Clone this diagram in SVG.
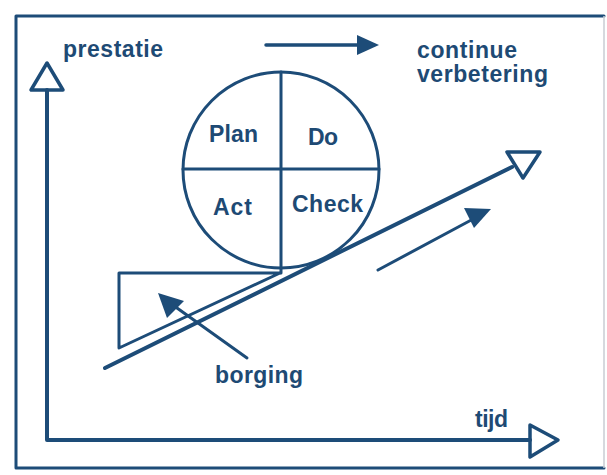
<svg xmlns="http://www.w3.org/2000/svg" width="607" height="475" viewBox="0 0 607 475">
<style>
.ln{fill:none;stroke:#1d4c78;stroke-linecap:round;stroke-linejoin:round}
.t{font-family:"Liberation Sans",Arial,sans-serif;font-weight:bold;font-size:23px;fill:#1e4a74}
</style>
<defs>
<marker id="fill" viewBox="0 0 10 10" refX="9" refY="5" markerWidth="5" markerHeight="5" markerUnits="strokeWidth" orient="auto">
<path d="M0,0 L10,5 L0,10 Z" fill="#1d4c78"/>
</marker>
</defs>
<rect width="607" height="475" fill="#fff"/>
<g id="frame">
<path class="ln" d="M604,16 H16 V468 H604" stroke-width="3"/>
<line x1="604" y1="16" x2="604" y2="468" stroke="#c8cdd3" stroke-width="1.5"/>
</g>
<g id="axes">
<path class="ln" d="M47,90 V440 H530" stroke-width="4"/>
<path class="ln" d="M47,63 L31,90 L63,90 Z" stroke-width="3.5"/>
<path class="ln" d="M530,425 L558,440 L530,457 Z" stroke-width="3.5"/>
</g>
<g id="pdca">
<circle class="ln" cx="281" cy="170" r="98" stroke-width="3"/>
<line class="ln" x1="281" y1="72" x2="281" y2="273" stroke-width="3"/>
<line class="ln" x1="183" y1="169" x2="379" y2="169" stroke-width="3"/>
<text class="t" x="209" y="142" textLength="49">Plan</text>
<text class="t" x="308" y="145" textLength="30">Do</text>
<text class="t" x="213" y="215" textLength="39">Act</text>
<text class="t" x="292" y="212" textLength="71">Check</text>
</g>
<g id="borging-wedge">
<path class="ln" d="M280,273 H119 V348 L280,273" stroke-width="3"/>
</g>
<g id="connectors">
<line class="ln" x1="105" y1="368" x2="512" y2="167" stroke-width="4"/>
<path class="ln" d="M507,152 L540,152 L523,178 Z" stroke-width="3.5"/>
<line class="ln" x1="266" y1="45" x2="360" y2="45" stroke-width="3.5"/>
<path d="M357,35 L379,45 L357,55 Z" fill="#1d4c78"/>
<line class="ln" x1="378" y1="270" x2="475" y2="218" stroke-width="3"/>
<path d="M464,208 L491,209 L474,228 Z" fill="#1d4c78"/>
<line class="ln" x1="247" y1="358" x2="170" y2="303" stroke-width="3"/>
<path d="M158,293 L184,301 L167,318 Z" fill="#1d4c78"/>
</g>
<g id="labels">
<text class="t" x="63" y="57" textLength="100">prestatie</text>
<text class="t" x="417" y="58" textLength="100">continue</text>
<text class="t" x="417" y="82" textLength="131">verbetering</text>
<text class="t" x="215" y="383" textLength="88">borging</text>
<text class="t" x="475" y="427" textLength="33">tijd</text>
</g>
</svg>
